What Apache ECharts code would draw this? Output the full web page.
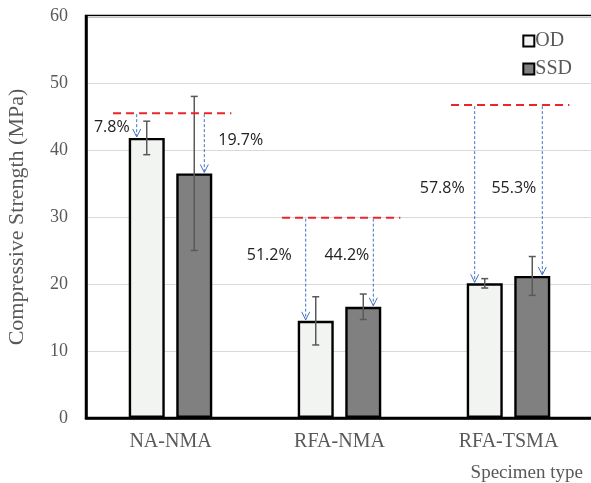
<!DOCTYPE html>
<html>
<head>
<meta charset="utf-8">
<script src="https://cdn.jsdelivr.net/npm/echarts@6/dist/echarts.min.js"></script>
<style>
  html, body { margin: 0; padding: 0; background: #fff; }
  #chart { width: 591px; height: 483px; }
</style>
</head>
<body>
<div id="chart"></div>
<script>
// Specimen groups on the x axis
var categories = ['NA-NMA', 'RFA-NMA', 'RFA-TSMA'];

// Mean compressive strength (MPa)
var odValues = [41.8, 14.5, 20.1];
var ssdValues = [36.5, 16.6, 21.2];

// Standard deviation for the error bars (MPa)
var odErrors = [2.5, 3.6, 0.7];
var ssdErrors = [11.5, 1.9, 2.9];

// Reference strength for each group (red dashed line, MPa)
var referenceValues = [45.5, 29.9, 46.7];

// Strength loss relative to the reference
var odLoss = ['7.8%', '51.2%', '57.8%'];
var ssdLoss = ['19.7%', '44.2%', '55.3%'];

// Vertical anchor (MPa) for each loss label
var odLossLabelY = [43.3, 24.3, 34.2];
var ssdLossLabelY = [41.5, 24.2, 34.2];

var yTicks = [0, 10, 20, 30, 40, 50, 60];

var SERIF = 'Liberation Serif';
var SANS = 'Open Sans';
var BAR_W = 36;
var BAR_GAP = 0.32;
var barOffset = (BAR_W + BAR_W * BAR_GAP) / 2;

var chart = echarts.init(document.getElementById('chart'), null, { renderer: 'canvas' });

function errorBarSeries(values, errors, side) {
  return {
    type: 'custom',
    z: 5,
    silent: true,
    data: values.map(function (v, i) { return [i, v - errors[i], v + errors[i]]; }),
    renderItem: function (params, api) {
      var lo = api.coord([api.value(0), api.value(1)]);
      var hi = api.coord([api.value(0), api.value(2)]);
      var x = lo[0] + side * barOffset;
      var cap = 3.5;
      var style = { stroke: '#595959', lineWidth: 1.5 };
      return {
        type: 'group',
        children: [
          { type: 'line', shape: { x1: x, y1: hi[1], x2: x, y2: lo[1] }, style: style },
          { type: 'line', shape: { x1: x - cap, y1: hi[1], x2: x + cap, y2: hi[1] }, style: style },
          { type: 'line', shape: { x1: x - cap, y1: lo[1], x2: x + cap, y2: lo[1] }, style: style }
        ]
      };
    }
  };
}

function arrowSeries(values, side) {
  return {
    type: 'custom',
    z: 6,
    silent: true,
    data: values.map(function (v, i) { return [i, referenceValues[i], v]; }),
    renderItem: function (params, api) {
      var top = api.coord([api.value(0), api.value(1)]);
      var end = api.coord([api.value(0), api.value(2)]);
      var band = api.size([1, 0])[0];
      var x = top[0] + side * band * 0.2;
      var y2 = end[1] - 1;
      var blue = '#4472C4';
      return {
        type: 'group',
        children: [
          { type: 'line', shape: { x1: x, y1: top[1] + 1, x2: x, y2: y2 },
            style: { stroke: blue, lineWidth: 1, lineDash: [3, 2] } },
          { type: 'polyline', shape: { points: [[x - 4, y2 - 8], [x, y2], [x + 4, y2 - 8]] },
            style: { stroke: blue, lineWidth: 1, fill: null } }
        ]
      };
    }
  };
}

function lossLabelSeries(labels, ys, side, dxs, aligns) {
  return {
    type: 'custom',
    z: 7,
    silent: true,
    data: labels.map(function (t, i) { return [i, ys[i]]; }),
    renderItem: function (params, api) {
      var p = api.coord([api.value(0), api.value(1)]);
      var band = api.size([1, 0])[0];
      var x = p[0] + side * band * 0.2 + dxs[params.dataIndex];
      return {
        type: 'text',
        style: {
          x: x, y: p[1],
          text: labels[params.dataIndex],
          fill: '#222',
          fontFamily: SANS,
          fontSize: 16,
          align: aligns[params.dataIndex],
          verticalAlign: 'middle'
        }
      };
    }
  };
}

var option = {
  animation: false,
  backgroundColor: '#fff',
  textStyle: { fontFamily: SERIF },
  grid: {
    left: 86, top: 16, right: -2, bottom: 65,
    outerBoundsMode: 'none',
    containLabel: false,
    show: true, borderColor: '#000', borderWidth: 2.5
  },
  legend: {
    orient: 'vertical',
    right: 14,
    top: 26,
    icon: 'rect',
    itemWidth: 11,
    itemHeight: 11,
    itemGap: 8,
    data: ['OD', 'SSD'],
    textStyle: { fontFamily: SERIF, fontSize: 20, color: '#595959', padding: [0, 0, 0, -4] }
  },
  xAxis: {
    type: 'category',
    data: categories,
    axisLine: { lineStyle: { color: '#000', width: 2.5 } },
    axisTick: { show: false },
    axisLabel: { fontFamily: SERIF, fontSize: 20, color: '#595959', margin: 14 },
    splitLine: { show: false }
  },
  yAxis: {
    type: 'value',
    min: yTicks[0],
    max: yTicks[yTicks.length - 1],
    interval: yTicks[1] - yTicks[0],
    name: 'Compressive Strength (MPa)',
    nameLocation: 'middle',
    nameGap: 58,
    nameTextStyle: { fontFamily: SERIF, fontSize: 22, color: '#595959' },
    axisLine: { show: true, lineStyle: { color: '#000', width: 2.5 } },
    axisTick: { show: false },
    axisLabel: { fontFamily: SERIF, fontSize: 18, color: '#595959', margin: 18 },
    splitLine: { lineStyle: { color: '#d9d9d9', width: 1 } }
  },
  graphic: [{
    type: 'text',
    right: 8,
    top: 464,
    style: { text: 'Specimen type', fontFamily: SERIF, fontSize: 19, fill: '#595959' }
  }],
  series: [
    {
      name: 'OD',
      type: 'bar',
      data: odValues,
      barWidth: BAR_W,
      barGap: (BAR_GAP * 100) + '%',
      itemStyle: { color: '#f2f4f2', borderColor: '#000', borderWidth: 2.4 }
    },
    {
      name: 'SSD',
      type: 'bar',
      data: ssdValues,
      barWidth: BAR_W,
      itemStyle: { color: '#808080', borderColor: '#000', borderWidth: 2.4 }
    },
    errorBarSeries(odValues, odErrors, -1),
    errorBarSeries(ssdValues, ssdErrors, 1),
    {
      type: 'custom',
      z: 6,
      silent: true,
      data: referenceValues.map(function (v, i) { return [i, v]; }),
      renderItem: function (params, api) {
        var c = api.coord([api.value(0), api.value(1)]);
        var band = api.size([1, 0])[0];
        return {
          type: 'line',
          shape: { x1: c[0] - band * 0.34, y1: c[1], x2: c[0] + band * 0.36, y2: c[1] },
          style: { stroke: '#e8262b', lineWidth: 2, lineDash: [8, 5] }
        };
      }
    },
    arrowSeries(odValues, -1),
    arrowSeries(ssdValues, 1),
    lossLabelSeries(odLoss, odLossLabelY, -1, [-7, -14, -10], ['right', 'right', 'right']),
    lossLabelSeries(ssdLoss, ssdLossLabelY, 1, [14, -4, -6], ['left', 'right', 'right'])
  ]
};

chart.setOption(option);
</script>
</body>
</html>
